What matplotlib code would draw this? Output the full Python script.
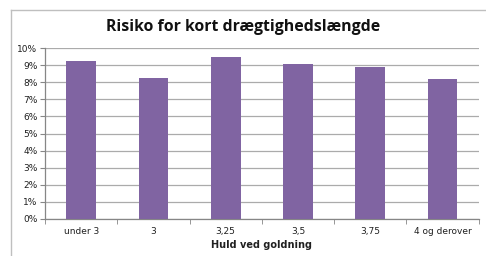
import matplotlib
matplotlib.use("Agg")
import matplotlib.pyplot as plt
from matplotlib.lines import Line2D
from matplotlib.ticker import FuncFormatter, FixedLocator
import numpy as np

categories = ["under 3", "3", "3,25", "3,5", "3,75", "4 og derover"]
values = [0.0925, 0.0824, 0.0947, 0.0908, 0.0890, 0.0820]
yticks = [0.00, 0.01, 0.02, 0.03, 0.04, 0.05, 0.06, 0.07, 0.08, 0.09, 0.10]

W, H = 486, 256
fig = plt.figure(figsize=(W / 100, H / 100), dpi=100)
fig.patch.set_facecolor("white")

# outer chart border (top and left edges visible)
bx, by = 10.5 / W, 1 - 9.5 / H
fig.add_artist(Line2D([bx, 1.0], [by, by], transform=fig.transFigure, color="#BFBFBF", linewidth=1.0))
fig.add_artist(Line2D([bx, bx], [0.0, by], transform=fig.transFigure, color="#BFBFBF", linewidth=1.0))

ax = fig.add_axes([45 / W, 1 - 218.7 / H, (478.7 - 45) / W, (218.7 - 48.3) / H])
x = np.arange(len(categories))
ax.bar(x, values, width=0.41, color="#8064A2", zorder=3)

ax.set_xlim(-0.5, len(categories) - 0.5)
ax.set_ylim(0, 0.10)
ax.yaxis.set_major_locator(FixedLocator(yticks))
ax.yaxis.set_major_formatter(FuncFormatter(lambda v, p: f"{round(v * 100)}%"))
ax.grid(axis="y", color="#ABABAB", linewidth=0.9, zorder=0)

ax.set_xticks(x)
ax.set_xticklabels(categories)
ax.xaxis.set_minor_locator(FixedLocator(np.arange(-0.5, len(categories), 1.0)))
ax.tick_params(axis="x", which="major", length=0, pad=6, labelsize=6.5, labelcolor="#202020")
ax.tick_params(axis="x", which="minor", length=3.5, color="#868686", direction="out")
ax.tick_params(axis="y", length=3.5, color="#868686", labelsize=6.5, labelcolor="#202020", pad=2)

for s in ["top", "right"]:
    ax.spines[s].set_visible(False)
for s in ["left", "bottom"]:
    ax.spines[s].set_color("#868686")
    ax.spines[s].set_linewidth(0.9)

ax.set_xlabel("Huld ved goldning", fontsize=7, fontweight="bold", labelpad=3, color="#202020")
fig.text(243 / W, 1 - 27 / H, "Risiko for kort drægtighedslængde", ha="center", va="center",
         fontsize=11.4, fontweight="bold", color="#111111", family="Open Sans")

fig.savefig("out.png", dpi=100)
